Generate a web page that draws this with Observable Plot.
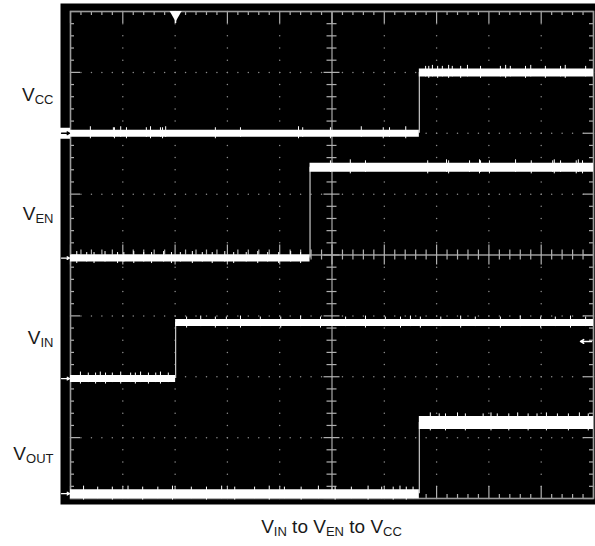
<!DOCTYPE html>
<html><head><meta charset="utf-8">
<script src="https://cdn.jsdelivr.net/npm/d3@7"></script>
<script src="https://cdn.jsdelivr.net/npm/@observablehq/plot@0.6"></script>
<style>
body{margin:0;background:#fff;font-family:"Liberation Sans",Arial,sans-serif;}
#cap{margin-left:70px;width:523px;text-align:center;font-size:19px;line-height:20px;margin-top:7px;color:#1a1a1a;white-space:nowrap}
#cap .s{font-size:13px;position:relative;top:3px}
</style></head><body>
<div id="chart"></div>
<div id="cap">V<span class="s">IN</span> to V<span class="s">EN</span> to V<span class="s">CC</span></div>
<script>
// ---- data (scope divisions: x 0..10, y 0..8) ----
const traces = ["VCC", "VEN", "VIN", "VOUT"];
const subs = ["CC", "EN", "IN", "OUT"];
const lowLevel = [6.0, 3.95, 1.97, 0.08];
const highLevel = [7.0, 5.44, 2.89, 1.25];
const edgeTime = [6.67, 4.58, 2.01, 6.67];
const triggerTime = 2.01;
const triggerLevel = 2.58;
const spikeTimes = {
  VCC: [0.38,0.82,0.84,0.96,1.07,1.45,1.53,1.72,1.76,1.82,2.77,3.25,4.36,4.44,4.97,5.56,5.98,6.10,6.41,6.79,6.85,6.92,7.02,7.11,7.23,7.30,7.46,7.59,7.84,8.22,8.32,8.41,8.70,8.80,9.08,9.37,9.46,9.85],
  VEN: [0.12,0.31,0.45,0.66,0.90,1.02,1.21,1.40,1.55,1.78,1.93,2.10,2.33,2.52,2.71,2.95,3.12,3.36,3.58,3.77,3.98,4.21,4.40,4.97,5.35,5.64,6.83,7.19,7.23,7.63,7.82,7.84,8.01,8.51,8.81,9.22,9.25,9.37,9.67,9.71,9.79],
  VIN: [0.19,0.34,0.48,0.57,0.67,0.80,0.96,1.15,1.24,1.34,1.49,1.63,1.72,1.87,2.22,2.49,2.77,2.98,3.25,3.63,4.02,4.40,4.78,5.26,5.64,6.02,6.31,6.50,6.69,7.08,7.46,7.74,8.22,8.60,8.99,9.27,9.56,9.85],
  VOUT: [0.25,0.52,0.80,1.10,1.38,1.67,1.95,2.31,2.60,2.89,3.14,3.52,3.80,4.09,4.41,4.74,5.06,5.37,5.69,5.95,6.17,6.30,6.42,6.55,6.88,7.05,7.17,7.40,7.55,7.89,8.04,8.16,8.38,8.55,8.75,8.92,9.10,9.31,9.52,9.73,9.90]
};

// ---- layout / style ----
const W = 595, H = 510;
const mL = 70, mR = 2, mT = 11, mB = 12;
const pxX = (W - mL - mR) / 10, pxY = (H - mT - mB) / 8;
const lowWidth = [7, 7, 7, 9];     // band thickness (px)
const highWidth = [8, 9, 7, 13];
const labelYpx = [94, 213, 337, 453];
const labelY = labelYpx.map(p => (H - mB - p) / pxY);
const labelX = -17 / pxX;

// trace segments
const segs = [];
const edges = [];
const spikes = [];
traces.forEach((t, i) => {
  segs.push({x1: 0, x2: edgeTime[i], y: lowLevel[i], w: lowWidth[i]});
  segs.push({x1: edgeTime[i], x2: 10, y: highLevel[i], w: highWidth[i]});
  edges.push({x: edgeTime[i], y1: lowLevel[i], y2: highLevel[i]});
  spikeTimes[t].forEach((s, k) => {
    const lo = s < edgeTime[i];
    const lvl = lo ? lowLevel[i] : highLevel[i];
    const w = lo ? lowWidth[i] : highWidth[i];
    const up = (w / 2 + (k % 3 === 0 ? 3 : 2)) / pxY;
    const dn = (w / 2 + (k % 2 === 0 ? 2 : 0.5)) / pxY;
    spikes.push({x: s, y1: lvl - dn, y2: lvl + up});
  });
});

// grid dots & ticks
const minorX = d3.range(0, 51).map(k => k / 5);
const minorY = d3.range(0, 41).map(k => k / 5);
const isMaj = v => Math.abs(v - Math.round(v)) < 1e-6;
const dots = [];
for (let gx = 1; gx <= 9; gx++) if (gx !== 5) minorY.forEach(y => dots.push({x: gx, y}));
for (let gy = 1; gy <= 7; gy++) if (gy !== 4) minorX.forEach(x => dots.push({x, y: gy}));
const vt = []; // vertical ticks
const ht = []; // horizontal ticks
minorX.forEach(x => {
  const m = isMaj(x);
  vt.push({x, y1: 8, y2: 8 - (m ? 12 : 4) / pxY});
  vt.push({x, y1: 0, y2: (m ? 12 : 4) / pxY});
  const c = (m ? 10 : 5) / pxY;
  vt.push({x, y1: 4 - c, y2: 4 + c});
});
minorY.forEach(y => {
  const m = isMaj(y);
  ht.push({y, x1: 0, x2: (m ? 10 : 4) / pxX});
  ht.push({y, x1: 10, x2: 10 - (m ? 10 : 4) / pxX});
  const c = (m ? 8 : 5) / pxX;
  ht.push({y, x1: 5 - c, x2: 5 + c});
});

const gnd = traces.map((t, i) => ({t, y: lowLevel[i]}));
const gray = "#9b9b9b";

const svg = Plot.plot({
  width: W, height: H,
  marginLeft: mL, marginRight: mR, marginTop: mT, marginBottom: mB,
  x: {domain: [0, 10], axis: null},
  y: {domain: [0, 8], axis: null},
  style: {fontFamily: "'Liberation Sans', Arial, sans-serif", background: "white"},
  marks: [
    Plot.frame({fill: "black", insetLeft: -10, insetRight: -2, insetTop: -8, insetBottom: -6}),
    Plot.dot(dots, {x: "x", y: "y", r: 0.75, fill: "#8c8c8c"}),
    Plot.ruleX([5], {stroke: gray, strokeWidth: 1.3}),
    Plot.ruleY([4], {stroke: gray, strokeWidth: 1.3}),
    Plot.ruleX(vt, {x: "x", y1: "y1", y2: "y2", stroke: "#b0b0b0", strokeWidth: 1.2}),
    Plot.ruleY(ht, {y: "y", x1: "x1", x2: "x2", stroke: "#b0b0b0", strokeWidth: 1.2}),
    Plot.frame({stroke: gray, strokeWidth: 1.6}),
    // traces
    Plot.ruleX(edges, {x: "x", y1: "y1", y2: "y2", stroke: "#c8c8c8", strokeWidth: 1.2}),
    Plot.ruleY(segs, {y: "y", x1: "x1", x2: "x2", strokeWidth: "w", stroke: "white", strokeLinecap: "butt"}),
    Plot.ruleX(spikes, {x: "x", y1: "y1", y2: "y2", stroke: "white", strokeWidth: 1}),
    // VCC ground patch + ground arrows
    Plot.ruleY([lowLevel[0]], {x1: -10 / pxX, x2: 0, stroke: "white", strokeWidth: lowWidth[0] + 4}),
    Plot.arrow(gnd, {x1: -9 / pxX, x2: -1 / pxX, y1: "y", y2: "y", stroke: d => d.t === "VCC" ? "black" : "white", strokeWidth: 1.3, headLength: 4}),
    // trigger position marker
    Plot.dot([triggerTime], {x: d => d, y: 8, symbol: "triangle", rotate: 180, r: 4.5, fill: "white", dy: 3}),
    Plot.ruleX([triggerTime], {y1: 8, y2: 8 - 12 / pxY, stroke: "white", strokeWidth: 1.3}),
    // trigger level marker
    Plot.arrow([triggerLevel], {x1: 10 - 2 / pxX, x2: 10 - 13 / pxX, y1: d => d, y2: d => d, stroke: "white", strokeWidth: 1.5, headLength: 6}),
    // labels
    Plot.text(traces, {x: labelX, y: (d, i) => labelY[i], text: (d, i) => "V|" + subs[i], textAnchor: "end", fontSize: 19, fill: "#1a1a1a"})
  ]
});

d3.select(svg).selectAll("text").each(function () {
  const t = this.textContent;
  if (!t.includes("|")) return;
  const [a, b] = t.split("|");
  const el = d3.select(this);
  el.text(null);
  el.append("tspan").text(a);
  el.append("tspan").attr("font-size", 13).attr("dy", 3).text(b);
});

document.getElementById("chart").appendChild(svg);
</script>
</body></html>
